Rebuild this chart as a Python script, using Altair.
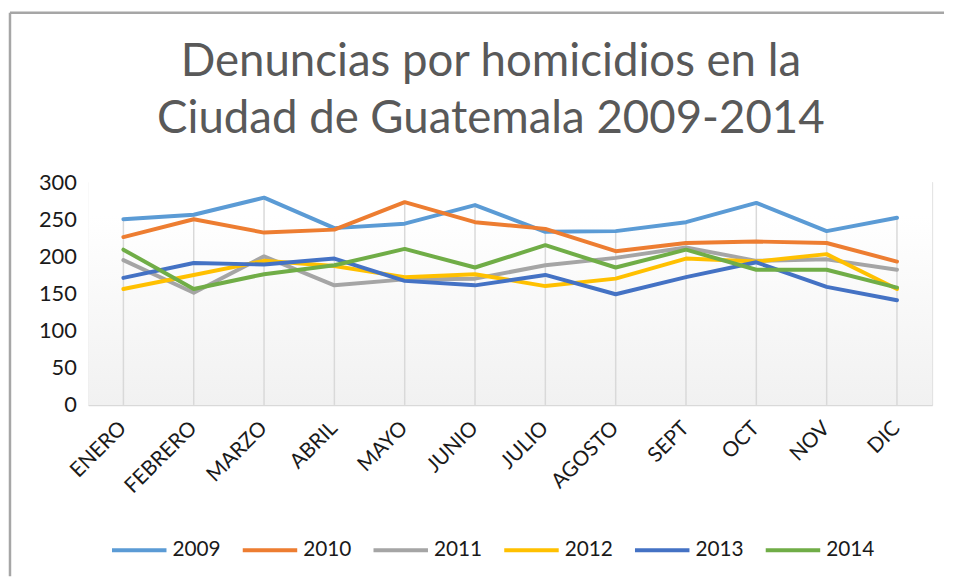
import altair as alt
import pandas as pd

months = ["ENERO", "FEBRERO", "MARZO", "ABRIL", "MAYO", "JUNIO",
          "JULIO", "AGOSTO", "SEPT", "OCT", "NOV", "DIC"]
years = ["2009", "2010", "2011", "2012", "2013", "2014"]
v2009 = [250, 256, 279, 238, 244, 269, 233, 234, 246, 272, 234, 252]
v2010 = [226, 250, 232, 236, 273, 246, 237, 207, 218, 220, 218, 193]
v2011 = [195, 151, 200, 161, 169, 170, 188, 198, 212, 194, 196, 182]
v2012 = [156, 175, 194, 187, 172, 176, 160, 170, 197, 193, 203, 156]
v2013 = [171, 191, 189, 197, 167, 161, 175, 149, 172, 192, 159, 141]
v2014 = [209, 156, 176, 188, 210, 185, 215, 185, 209, 182, 182, 158]
y_ticks = [0, 50, 100, 150, 200, 250, 300]
colors = ["#5B9BD5", "#ED7D31", "#A5A5A5", "#FFC000", "#4472C4", "#70AD47"]
title_lines = ["Denuncias por homicidios en la", "Ciudad de Guatemala 2009-2014"]

series = [v2009, v2010, v2011, v2012, v2013, v2014]
rows = []
for y, vals in zip(years, series):
    for m, v in zip(months, vals):
        rows.append({"month": m, "year": y, "value": v})
df = pd.DataFrame(rows)

W, H = 852, 225
FONT = "Lato"

xenc = alt.X("month:N", sort=months, scale=alt.Scale(domain=months),
             axis=alt.Axis(title=None, labelAngle=-45, labelAlign="right",
                           labelBaseline="middle", labelPadding=20,
                           labelFont=FONT, labelFontSize=21, labelColor="#1a1a1a",
                           ticks=False, grid=False, domainColor="#d9d9d9",
                           domainWidth=1.5))
yscale = alt.Scale(domain=[0, 300], nice=False)
yaxis = alt.Axis(title=None, values=y_ticks, tickCount=7, labelOverlap=False,
                 labelFont=FONT, labelFontSize=22, labelColor="#1a1a1a",
                 labelPadding=12, ticks=False, domain=False, grid=False)

bg = alt.Chart(alt.Data(values=[{}])).mark_rect(
    color=alt.LinearGradient(
        gradient="linear",
        stops=[alt.GradientStop(color="#ffffff", offset=0),
               alt.GradientStop(color="#ffffff", offset=0.15),
               alt.GradientStop(color="#f1f1f1", offset=1)],
        x1=0, x2=0, y1=0, y2=1)
).encode(x=alt.value(0), x2=alt.value(W), y=alt.value(0), y2=alt.value(H))

border_top = alt.Chart(alt.Data(values=[{}])).mark_rule(
    color="#a6a6a6", strokeWidth=2.5).encode(
    x=alt.value(-79), x2=alt.value(864), y=alt.value(-171))
border_left = alt.Chart(alt.Data(values=[{}])).mark_rule(
    color="#a6a6a6", strokeWidth=2.5).encode(
    x=alt.value(-79), y=alt.value(-171), y2=alt.value(398))

drops = alt.Chart(df).transform_aggregate(
    maxv="max(value)", groupby=["month"]
).mark_rule(color="#d9d9d9", strokeWidth=1.5).encode(
    x=xenc,
    y=alt.Y("maxv:Q", scale=yscale, axis=yaxis),
    y2=alt.datum(0),
)

lines = alt.Chart(df).mark_line(strokeWidth=4, strokeJoin="round", strokeCap="round").encode(
    x=xenc,
    y=alt.Y("value:Q", scale=yscale, axis=yaxis),
    color=alt.Color("year:N", scale=alt.Scale(domain=years, range=colors),
                    legend=alt.Legend(title=None, orient="none", direction="horizontal",
                                      columns=6, legendX=22, legendY=342,
                                      symbolType="stroke", symbolSize=3025,
                                      symbolStrokeWidth=4, labelFont=FONT,
                                      labelFontSize=21, labelColor="#1a1a1a",
                                      labelOffset=4, columnPadding=14)),
)

chart = alt.layer(bg, border_top, border_left, drops, lines).properties(
    width=W, height=H,
    padding=0,
    title=alt.TitleParams(text=title_lines, font=FONT, fontSize=46,
                          fontWeight="normal", color="#595959",
                          anchor="middle", frame="bounds", lineHeight=58,
                          offset=-133, dx=14),
).configure_view(stroke=None).configure(background="white")

chart.save("out.html", embed_options={"renderer": "svg", "actions": False})
